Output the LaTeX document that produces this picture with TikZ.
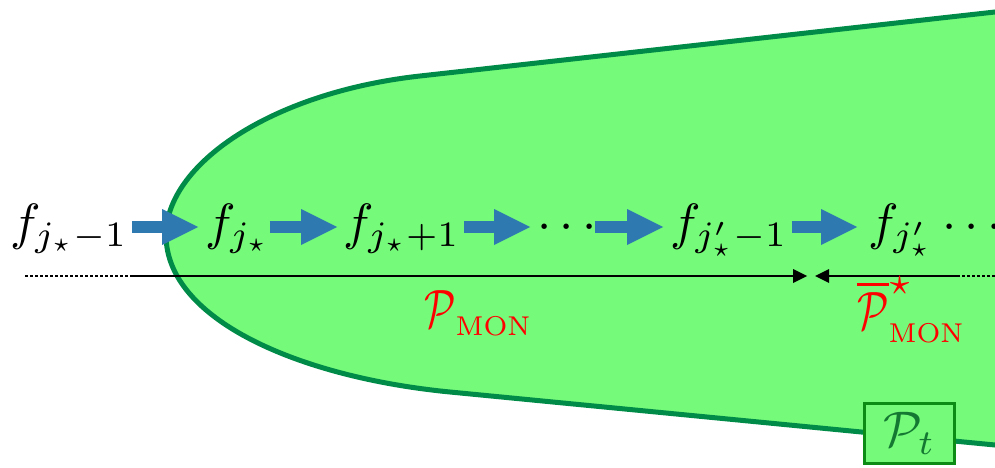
\documentclass[tikz,border=0pt]{standalone}
\usetikzlibrary{arrows.meta,calc}
\definecolor{fillg}{RGB}{117,250,122}
\definecolor{edgeg}{RGB}{0,140,72}
\definecolor{boxg}{RGB}{12,140,20}
\definecolor{boxtxt}{RGB}{20,120,50}
\definecolor{blk}{RGB}{46,122,176}
\newcommand{\monsub}{\hbox{\scalebox{0.72}{$\scriptstyle\mathrm{MON}$}}}
\newcommand{\narrowP}{\scalebox{0.75}[1]{$\mathcal{P}$}}
\tikzset{
  lbl/.style={inner sep=0pt, anchor=base west, scale=5.1},
  redlbl/.style={inner sep=0pt, anchor=base west, text=red, scale=5.4},
  flow/.style={color=blk, line width=12pt, -{Triangle[length=36pt,width=36pt,line width=0pt]}},
  axisline/.style={line width=2.5pt, black},
  dotline/.style={line width=2.5pt, black, dash pattern=on 2.5pt off 2.5pt},
  headtip/.style={-{Triangle[length=14pt,width=14pt,line width=0pt]}}
}
\begin{document}
\begin{tikzpicture}[x=1pt,y=-1pt]
\useasboundingbox (0,0) rectangle (995,468);
\begin{scope}
\clip (0,0) rectangle (995,468);
\draw[fill=fillg, draw=edgeg, line width=5pt]
  (1010,10) -- (995,12) -- (420,76)
  .. controls (270,92.7) and (166,165) .. (166,235)
  .. controls (166,320) and (300,377.4) .. (450,392)
  -- (995,445) -- (1010,447) -- cycle;
\end{scope}
% texts
\node[lbl] (a) at (9,239) {$f_{j_\star-1}$};
\node[lbl] (b) at (204,239) {$f_{j_\star}$};
\node[lbl] (c) at (342,239) {$f_{j_\star+1}$};
\node[lbl] (d) at (536,239) {$\cdots$};
\node[lbl] (e) at (669,239) {$f_{j'_\star-1}$};
\node[lbl] (g) at (867,239) {$f_{j'_\star}\cdots$};
% flow arrows
\draw[flow] ($(a.east|-0,227)+(3,0)$) -- ($(b.west|-0,227)+(-6,0)$);
\draw[flow] ($(b.east|-0,227)+(-2,0)$) -- ($(c.west|-0,227)+(-5,0)$);
\draw[flow] ($(c.east|-0,227)+(3,0)$) -- ($(d.west|-0,227)+(-6,0)$);
\draw[flow] ($(d.east|-0,227)+(-3,0)$) -- ($(e.west|-0,227)+(-6,0)$);
\draw[flow] ($(e.east|-0,227)+(3,0)$) -- ($(g.west|-0,227)+(-10,0)$);
% axis
\coordinate (L0) at (25,276);
\coordinate (L1) at (130,276);
\coordinate (L2) at (807,276);
\coordinate (R2) at (815,276);
\coordinate (R1) at (957,276);
\coordinate (R0) at (995,276);
\draw[dotline] (L0) -- (L1);
\draw[axisline, headtip] (L1) -- (L2);
\draw[axisline, headtip] (R1) -- (R2);
\draw[dotline] (R1) -- (R0);
% labels
\node[redlbl] (pm) at (423,327) {$\narrowP_{\monsub}$};
\node[redlbl] (pbar) at (856,329) {$\overline{\narrowP}^{\star}_{\monsub}$};
\node[draw=boxg, line width=3pt, fill=fillg, text=boxtxt, minimum width=18pt, minimum height=12pt, inner sep=0pt, scale=5] (pt) at (909.5,433.5) {$\mathcal{P}_t$};
\end{tikzpicture}
\end{document}
